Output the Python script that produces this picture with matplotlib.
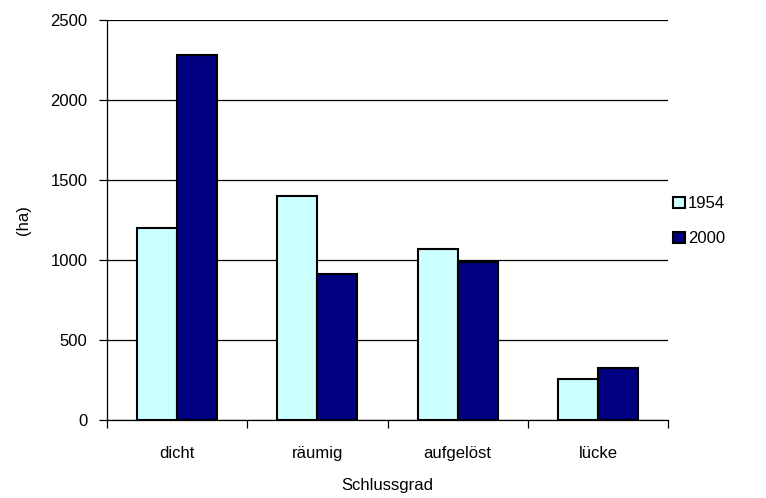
import matplotlib
matplotlib.use("Agg")
import matplotlib.pyplot as plt
import numpy as np

categories = ["dicht", "räumig", "aufgelöst", "lücke"]
series_names = ["1954", "2000"]
values_1954 = [1200, 1400, 1070, 255]
values_2000 = [2280, 910, 985, 325]
y_ticks = [0, 500, 1000, 1500, 2000, 2500]

plt.rcParams['font.family'] = ['Liberation Sans', 'DejaVu Sans']
fs = 12

fig = plt.figure(figsize=(7.66, 4.98), dpi=100)
ax = fig.add_axes([107/766, 1 - 420/498, (668-107)/766, 400/498])

x = np.arange(len(categories))
w = 0.2857
ax.bar(x - w/2, values_1954, width=w, color="#CCFFFF", edgecolor="black", linewidth=1.5, label=series_names[0], zorder=3)
ax.bar(x + w/2, values_2000, width=w, color="#000080", edgecolor="black", linewidth=1.5, label=series_names[1], zorder=3)

ax.set_xlim(-0.5, len(categories) - 0.5)
ax.set_ylim(0, 2500)
ax.set_yticks(y_ticks)
ax.set_yticklabels([str(v) for v in y_ticks], fontsize=fs)
ax.yaxis.grid(True, color="black", linewidth=0.9, zorder=0)
ax.set_axisbelow(True)

ax.set_xticks(x)
ax.set_xticklabels(categories, fontsize=fs)
ax.tick_params(axis='x', which='major', length=0, pad=19)
ax.set_xticks(np.arange(-0.5, len(categories), 1.0), minor=True)
ax.tick_params(axis='x', which='minor', length=6, width=0.9, color="black")
ax.tick_params(axis='y', length=6, width=0.9, pad=8)

for s in ["top", "right"]:
    ax.spines[s].set_visible(False)
for s in ["left", "bottom"]:
    ax.spines[s].set_linewidth(0.9)
    ax.spines[s].set_color("black")

ax.set_ylabel("(ha)", fontsize=fs, labelpad=14)
ax.set_xlabel("Schlussgrad", fontsize=fs, labelpad=12)

ax.legend(loc="center left", bbox_to_anchor=(0.983, 0.497), frameon=False, fontsize=fs,
          handlelength=0.7, handleheight=0.7, handletextpad=0.15, labelspacing=1.2)

fig.savefig("out.png", dpi=100)
